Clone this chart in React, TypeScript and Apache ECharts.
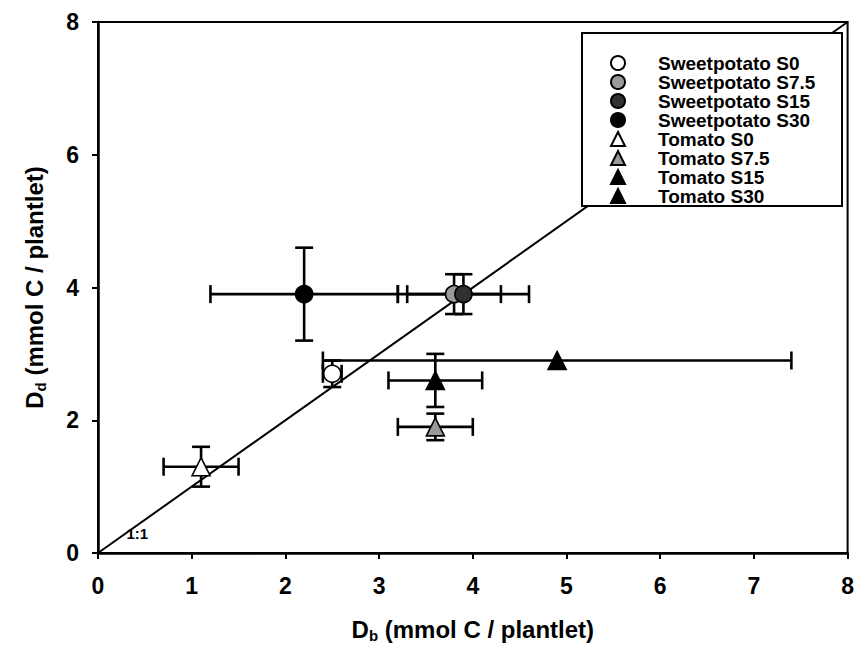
import React, { useEffect, useRef } from "react";
import * as echarts from "echarts";

// ---- data ----
const seriesNames = [
  "Sweetpotato S0",
  "Sweetpotato S7.5",
  "Sweetpotato S15",
  "Sweetpotato S30",
  "Tomato S0",
  "Tomato S7.5",
  "Tomato S15",
  "Tomato S30",
];
const dbValues = [2.5, 3.8, 3.9, 2.2, 1.1, 3.6, 3.6, 4.9];
const ddValues = [2.7, 3.9, 3.9, 3.9, 1.3, 1.9, 2.6, 2.9];
const dbErrors = [0.1, 0.5, 0.7, 1.0, 0.4, 0.4, 0.5, 2.5];
const ddErrors = [0.2, 0.3, 0.3, 0.7, 0.3, 0.2, 0.4, 0.0];
const symbols = ["circle", "circle", "circle", "circle", "triangle", "triangle", "triangle", "triangle"];
const fills = ["#ffffff", "#9a9a9a", "#303030", "#000000", "#ffffff", "#9a9a9a", "#000000", "#000000"];
const oneToOne = [
  [0, 0],
  [8, 8],
];
const oneToOneLabel = [0.42, 0.3];
const xTicks = [0, 1, 2, 3, 4, 5, 6, 7, 8];
const yTicks = [0, 2, 4, 6, 8];

const FONT = "'Liberation Sans', Arial, sans-serif";

export default function App() {
  const ref = useRef<HTMLDivElement>(null);
  useEffect(() => {
    if (!ref.current) return;
    const chart = echarts.init(ref.current, undefined, { renderer: "svg" });

    const errData = dbValues.map((x, i) => [x, ddValues[i], dbErrors[i], ddErrors[i]]);

    const scatterSeries = seriesNames.map((name, i) => ({
      name,
      type: "scatter",
      symbol: symbols[i],
      symbolSize: symbols[i] === "circle" ? 17 : 18,
      z: 6,
      itemStyle: { color: fills[i], borderColor: "#000", borderWidth: 1.6, opacity: 1 },
      data: [[dbValues[i], ddValues[i]]],
    }));

    const titleRich = {
      a: { fontSize: 24, fontWeight: "bold", fontFamily: FONT, color: "#000" },
      s: { fontSize: 15, fontWeight: "bold", fontFamily: FONT, color: "#000", padding: [13, 0, 0, 0] },
    };

    const option: any = {
      animation: false,
      textStyle: { fontFamily: FONT },
      grid: { left: 98, top: 22, width: 755, height: 531, show: true, borderColor: "#000", borderWidth: 2 },
      xAxis: {
        type: "value",
        min: xTicks[0],
        max: xTicks[xTicks.length - 1],
        interval: 1,
        splitLine: { show: false },
        axisLine: { show: true, lineStyle: { color: "#000", width: 2.5 } },
        axisTick: { show: true, length: 6, lineStyle: { color: "#000", width: 2 } },
        axisLabel: { color: "#000", fontSize: 23, fontWeight: "bold", fontFamily: FONT, margin: 21 },
        name: "{a|D}{s|b}{a| (mmol C / plantlet)}",
        nameLocation: "middle",
        nameGap: 62,
        nameTextStyle: { rich: titleRich },
      },
      yAxis: {
        type: "value",
        min: yTicks[0],
        max: yTicks[yTicks.length - 1],
        interval: 2,
        splitLine: { show: false },
        axisLine: { show: true, lineStyle: { color: "#000", width: 2.5 } },
        axisTick: { show: true, length: 6, lineStyle: { color: "#000", width: 2 } },
        axisLabel: { color: "#000", fontSize: 23, fontWeight: "bold", fontFamily: FONT, margin: 19 },
        name: "{a|D}{s|d}{a| (mmol C / plantlet)}",
        nameLocation: "middle",
        nameGap: 50,
        nameTextStyle: { rich: titleRich },
      },
      legend: {
        data: seriesNames,
        orient: "vertical",
        left: 610,
        top: 53.5,
        padding: 0,
        itemGap: 0,
        itemWidth: 14,
        itemHeight: 14,
        z: 10,
        selectedMode: false,
        textStyle: {
          fontSize: 19,
          fontWeight: "bold",
          fontFamily: FONT,
          color: "#000",
          lineHeight: 18.3,
          padding: [0, 0, 0, 28],
        },
      },
      graphic: [
        {
          type: "rect",
          z: 8,
          shape: { x: 582, y: 33, width: 260, height: 173 },
          style: { fill: "#fff", stroke: "#000", lineWidth: 2 },
        },
      ],
      series: [
        {
          name: "1:1",
          type: "line",
          data: oneToOne,
          symbol: "none",
          z: 1,
          lineStyle: { color: "#000", width: 2 },
          markPoint: {
            symbol: "circle",
            symbolSize: 0,
            label: {
              show: true,
              formatter: "1:1",
              position: "inside",
              color: "#000",
              fontSize: 15,
              fontWeight: "bold",
              fontFamily: FONT,
            },
            data: [{ coord: oneToOneLabel }],
          },
        },
        {
          name: "errors",
          type: "custom",
          z: 3,
          data: errData,
          renderItem: (params: any, api: any) => {
            const x = api.value(0);
            const y = api.value(1);
            const xe = api.value(2);
            const ye = api.value(3);
            const cap = 9;
            const st = { stroke: "#000", lineWidth: 2.6, fill: "none" };
            const children: any[] = [];
            if (xe > 0) {
              const l = api.coord([x - xe, y]);
              const r = api.coord([x + xe, y]);
              children.push({ type: "line", shape: { x1: l[0], y1: l[1], x2: r[0], y2: r[1] }, style: st });
              children.push({ type: "line", shape: { x1: l[0], y1: l[1] - cap, x2: l[0], y2: l[1] + cap }, style: st });
              children.push({ type: "line", shape: { x1: r[0], y1: r[1] - cap, x2: r[0], y2: r[1] + cap }, style: st });
            }
            if (ye > 0) {
              const t = api.coord([x, y + ye]);
              const b = api.coord([x, y - ye]);
              children.push({ type: "line", shape: { x1: t[0], y1: t[1], x2: b[0], y2: b[1] }, style: st });
              children.push({ type: "line", shape: { x1: t[0] - cap, y1: t[1], x2: t[0] + cap, y2: t[1] }, style: st });
              children.push({ type: "line", shape: { x1: b[0] - cap, y1: b[1], x2: b[0] + cap, y2: b[1] }, style: st });
            }
            return { type: "group", children };
          },
        },
        ...scatterSeries,
      ],
    };
    chart.setOption(option);
    return () => chart.dispose();
  }, []);

  return (
    <div
      ref={ref}
      style={{ position: "fixed", left: 0, top: 0, width: 857, height: 655, background: "#fff" }}
    />
  );
}
